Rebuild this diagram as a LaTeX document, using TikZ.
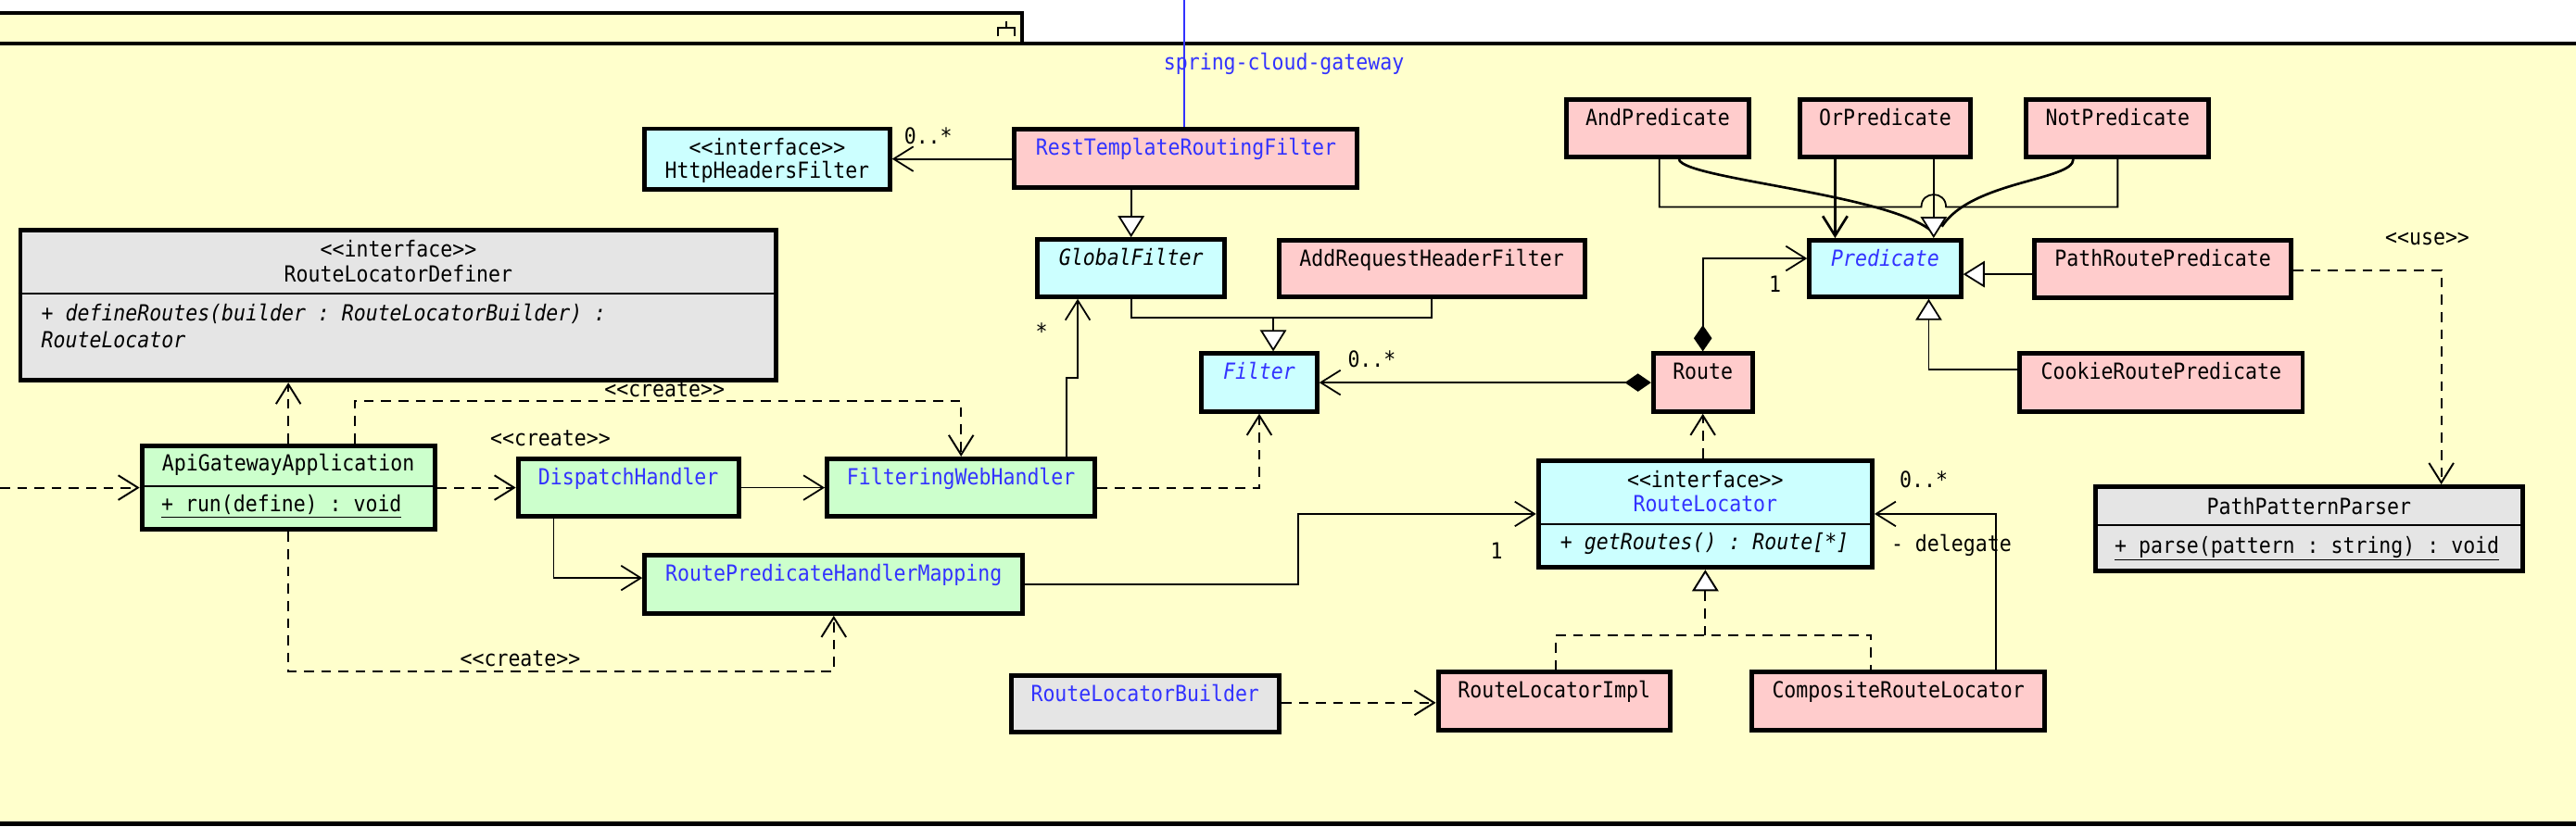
\documentclass[tikz,border=0pt]{standalone}
\usepackage{fontspec}
\setmonofont{DejaVu Sans Mono}[FakeStretch=0.9]
\usetikzlibrary{arrows.meta}
\definecolor{bgyellow}{HTML}{FFFFCC}
\definecolor{clspink}{HTML}{FFCCCC}
\definecolor{clscyan}{HTML}{CCFFFF}
\definecolor{clsgreen}{HTML}{CCFFCC}
\definecolor{clsgray}{HTML}{E5E5E5}
\definecolor{nameblue}{RGB}{50,50,255}
\newcommand\umlfnt{\ttfamily\fontsize{13.5pt}{16pt}\selectfont}
\newcommand\umlbox[6]{%
  \pgfmathsetmacro\umlW{#4-#2-2.8}%
  \pgfmathsetmacro\umlH{#5-#3-2.8}%
  \pgfmathsetmacro\umlX{(#2+#4)/2}%
  \pgfmathsetmacro\umlY{(#3+#5)/2}%
  \node[clsbox, fill=#6, minimum width=\umlW pt, minimum height=\umlH pt] (#1) at (\umlX,\umlY) {};}
\tikzset{
  clsbox/.style={draw=black, line width=2.8pt, inner sep=0pt},
  sepline/.style={line width=1.2pt},
  conn/.style={line width=1pt},
  thickconn/.style={line width=1.5pt},
  dep/.style={line width=1.1pt, dash pattern=on 6pt off 4.5pt},
  openarr/.style={-{Straight Barb[length=12pt,width=15pt]}},
  gen/.style={-{Triangle[length=13pt,width=16pt,fill=white]}},
  comparr/.style={{Diamond[length=16pt,width=11pt]}-{Straight Barb[length=12pt,width=15pt]}},
  txt/.style={font=\umlfnt, inner sep=0pt, anchor=base},
  txtl/.style={txt, anchor=base west},
  txti/.style={txt, font=\umlfnt\itshape},
  txtli/.style={txtl, font=\umlfnt\itshape},
  bluetxt/.style={text=nameblue},
}
\begin{document}
\begin{tikzpicture}[x=1pt,y=-1pt]
\useasboundingbox (0,0) rectangle (1568,503.12);
% package frame
\fill[white] (0,0) rectangle (1568,503.12);
\fill[bgyellow] (-10,7.7) rectangle (622,26.4);
\fill[bgyellow] (-10,26.4) rectangle (1580,501.5);
\draw[line width=2.2pt] (-10,7.7) -- (622,7.7) -- (622,26.4);
\draw[line width=2.6pt] (-10,26.4) -- (1580,26.4);
\draw[line width=3pt] (-10,501.8) -- (1580,501.8);
\draw[line width=1pt] (612.7,12.8) -- (612.7,16.8) (607.5,22.2) -- (607.5,16.8) -- (617.8,16.8) -- (617.8,22.2);

% classes
\umlbox{hhf}{391}{77}{543}{117}{clscyan}
\umlbox{rtrf}{616}{77.5}{827.6}{115.8}{clspink}
\umlbox{gf}{630}{144.5}{747}{182}{clscyan}
\umlbox{arhf}{777}{145}{966}{182}{clspink}
\umlbox{filter}{730}{214}{803}{252}{clscyan}
\umlbox{route}{1005}{214}{1068}{252}{clspink}
\umlbox{pred}{1100}{145}{1195}{182}{clscyan}
\umlbox{andp}{952}{59}{1066}{97}{clspink}
\umlbox{orp}{1094}{59}{1201}{97}{clspink}
\umlbox{notp}{1232}{59}{1346}{97}{clspink}
\umlbox{prp}{1237}{145}{1396}{183}{clspink}
\umlbox{crp}{1228}{214}{1403}{252}{clspink}
\umlbox{ppp}{1274}{295}{1537}{349}{clsgray}
\umlbox{rld}{11}{139}{474}{233}{clsgray}
\umlbox{api}{85}{270}{266}{324}{clsgreen}
\umlbox{dh}{314}{278}{451}{316}{clsgreen}
\umlbox{fwh}{502}{278}{668}{316}{clsgreen}
\umlbox{rphm}{391}{337}{624}{375}{clsgreen}
\umlbox{rl}{935}{279}{1141}{347}{clscyan}
\umlbox{rlb}{614}{410}{780}{447}{clsgray}
\umlbox{rli}{874}{408}{1018}{446}{clspink}
\umlbox{crl}{1065}{408}{1246}{446}{clspink}

% compartment separators
\draw[sepline] (rld.west |- 0,179) -- (rld.east |- 0,179);
\draw[sepline] (api.west |- 0,296) -- (api.east |- 0,296);
\draw[sepline] (rl.west |- 0,319) -- (rl.east |- 0,319);
\draw[sepline] (ppp.west |- 0,320) -- (ppp.east |- 0,320);

% class texts
\node[txt] (hhfs) at (467,94.3) {<<interface>>};
\node[txt] (hhfn) at (467,108.8) {HttpHeadersFilter};
\node[txt,bluetxt] (rtrft) at (722,94.3) {RestTemplateRoutingFilter};
\node[txti] (gft) at (688.5,161.7) {GlobalFilter};
\node[txt] (arhft) at (871.5,162.2) {AddRequestHeaderFilter};
\node[txti,bluetxt] (filtert) at (766.5,231.2) {Filter};
\node[txt] (routet) at (1036.5,231.2) {Route};
\node[txti,bluetxt] (predt) at (1147.5,162.2) {Predicate};
\node[txt] (andt) at (1009,76.2) {AndPredicate};
\node[txt] (ort) at (1147.5,76.2) {OrPredicate};
\node[txt] (nott) at (1289,76.2) {NotPredicate};
\node[txt] (prpt) at (1316.5,162.2) {PathRoutePredicate};
\node[txt] (crpt) at (1315.5,231.2) {CookieRoutePredicate};
\node[txt] (pppn) at (1405.5,313.3) {PathPatternParser};
\node[txtl] (pppm) at (1287,336.8) {\underline{+ parse(pattern : string) : void}};
\node[txt] (rlds) at (242.5,156.3) {<<interface>>};
\node[txt] (rldn) at (242.5,171.8) {RouteLocatorDefiner};
\node[txtli] (rldm1) at (25,195.3) {+ defineRoutes(builder : RouteLocatorBuilder) :};
\node[txtli] (rldm2) at (25,211.8) {RouteLocator};
\node[txt] (apin) at (175.5,286.8) {ApiGatewayApplication};
\node[txtl] (apim) at (98,311.8) {\underline{+ run(define) : void}};
\node[txt,bluetxt] (dht) at (382.5,295.2) {DispatchHandler};
\node[txt,bluetxt] (fwht) at (585,295.2) {FilteringWebHandler};
\node[txt,bluetxt] (rphmt) at (507.5,354.2) {RoutePredicateHandlerMapping};
\node[txt] (rls) at (1038,296.8) {<<interface>>};
\node[txt,bluetxt] (rln) at (1038,311.8) {RouteLocator};
\node[txtli] (rlm) at (949.6,334.8) {+ getRoutes() : Route[*]};
\node[txt,bluetxt] (rlbt) at (697,427.2) {RouteLocatorBuilder};
\node[txt] (rlit) at (946,425.2) {RouteLocatorImpl};
\node[txt] (crlt) at (1155.5,425.2) {CompositeRouteLocator};

% package name
\coordinate (bluetop) at (721,-2);
\draw[nameblue, line width=1.2pt] (bluetop) -- (rtrf.north -| bluetop);
\node[txt,bluetxt] (pkg) at (781.5,42.4) {spring-cloud-gateway};

% connectors
\draw[conn,openarr] (rtrf.west |- 0,96.8) -- (hhf.east |- 0,96.8);
\draw[conn,gen] (gf.north |- rtrf.south) -- (gf.north);
\coordinate (fj) at (775,193.5);
\draw[conn] (gf.south) |- (fj) -| (arhf.south);
\draw[conn,gen] (fj) -- (fj |- filter.north);
\draw[conn,openarr] (fwh.north -| 649,0) -- (649,230) -- (656,230) -- (gf.south -| 656,0);
\draw[dep,openarr] (fwh.east) -| (filter.south);
\draw[conn,comparr] (route.west) -- (filter.east |- route.west);
\draw[conn,comparr] (route.north) |- (pred.west |- 0,157.4);

% predicate composites
\coordinate (andend) at (1176,141);
\coordinate (notend) at (1182,138);
\draw[thickconn] (andp.south -| 1022,0) .. controls (1024,109) and (1150,118) .. (andend);
\draw[thickconn] (notp.south -| 1262,0) .. controls (1262,110) and (1200,110) .. (notend);
\draw[conn] (andp.south -| 1010,0) -- (1010,126) -- (1169.5,126) .. controls (1169.5,116) and (1184.5,116) .. (1184.5,126) -- (1289,126) -- (notp.south -| 1289,0);
\draw[conn,gen] (orp.south -| 1177,0) -- (pred.north -| 1177,0);
\draw[thickconn,openarr] (orp.south -| 1117,0) -- (pred.north -| 1117,0);
\draw[conn,gen] (prp.west |- 0,167) -- (pred.east |- 0,167);
\draw[conn,gen] (crp.west |- 0,225) -| (pred.south -| 1174,0);
\draw[dep,openarr] (prp.east |- 0,164.6) -| (ppp.north -| 1486,0);

% route locators
\draw[dep,openarr] (rl.north -| route.south) -- (route.south);
\coordinate (rj) at (1038,387);
\draw[dep] (rli.north -| 947,0) |- (rj) -| (crl.north -| 1139,0);
\draw[dep,gen] (rj) -- (rl.south -| rj);
\draw[conn,openarr] (crl.north -| 1215,0) |- (rl.east |- 0,313);
\draw[conn,openarr] (rphm.east) -| (790,313) -- (rl.west |- 0,313);
\draw[dep,openarr] (rlb.east |- 0,428) -- (rli.west |- 0,428);

% handlers
\draw[conn,openarr] (dh.east) -- (fwh.west |- dh.east);
\draw[conn,openarr] (dh.south -| 337,0) |- (rphm.west |- 0,352);
\draw[dep,openarr] (api.east) -- (dh.west |- api.east);
\coordinate (ext) at (0,297);
\draw[dep,openarr] (ext) -- (api.west);
\draw[dep,openarr] (api.north) -- (rld.south -| api.north);
\draw[dep,openarr] (api.north -| 216,0) |- (fwh.north |- 0,244) -- (fwh.north);
\draw[dep,openarr] (api.south) |- (rphm.south |- 0,409) -- (rphm.south);

% labels
\node[txt] (l1) at (565,87.8) {0..*};
\node[txt] (l2) at (634,206.8) {*};
\node[txt] (l3) at (835,223.8) {0..*};
\node[txt] (l4) at (1080.5,177.8) {1};
\node[txt] (l5) at (1477.5,149.3) {<<use>>};
\node[txt] (l6) at (1171,296.8) {0..*};
\node[txtl] (l7) at (1151,335.8) {- delegate};
\node[txt] (l8) at (911,340.3) {1};
\node[txt] (l9) at (335,271.3) {<<create>>};
\node[txt] (l10) at (404.5,241.8) {<<create>>};
\node[txt] (l11) at (316.7,405.8) {<<create>>};
\end{tikzpicture}
\end{document}
